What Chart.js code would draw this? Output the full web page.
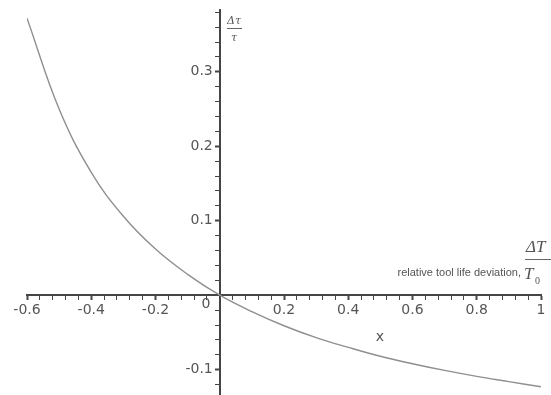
<!DOCTYPE html>
<html>
<head>
<meta charset="utf-8">
<script src="https://cdn.jsdelivr.net/npm/chart.js@4"></script>
<style>
  html, body { margin: 0; padding: 0; background: #fff; }
  #wrap { width: 551px; height: 395px; }
</style>
</head>
<body>
<div id="wrap"><canvas id="chart"></canvas></div>
<script>
// x = relative tool life deviation, y = delta tau / tau
const xValues = [-0.6, -0.5, -0.4, -0.3, -0.2, -0.1, 0, 0.1, 0.2, 0.3, 0.4, 0.5, 0.6, 0.7, 0.8, 0.9, 1.0];
const yValues = [0.372, 0.250, 0.165, 0.106, 0.062, 0.028, 0, -0.022, -0.041, -0.057, -0.070, -0.082, -0.092, -0.101, -0.109, -0.116, -0.123];

// labelled ticks on each axis
const xTickLabels = [-0.6, -0.4, -0.2, 0.2, 0.4, 0.6, 0.8, 1];
const yTickLabels = [0.3, 0.2, 0.1, -0.1];

const axisColor = '#454545';
const textColor = '#555';

function isMajor(v, list) {
  return list.some(t => Math.abs(t - v) < 1e-6);
}

function fmt(v) {
  if (Math.abs(v - 1) < 1e-6) return '1';
  return (Math.round(v * 10) / 10).toFixed(1);
}

// axis titles and the origin "0" drawn on top of the chart
const titlesPlugin = {
  id: 'titles',
  afterDraw(chart) {
    const c = chart.ctx;
    c.save();
    c.fillStyle = textColor;
    c.strokeStyle = '#666';
    c.textAlign = 'center';
    c.textBaseline = 'middle';

    // origin label
    c.font = '14px "DejaVu Sans"';
    c.fillText('0', 206, 304);

    // x below the axis
    c.font = '14px "DejaVu Sans"';
    c.fillText('x', 380, 337);

    // y axis title, small fraction
    c.font = 'italic 11px "DejaVu Serif"';
    c.fillText('\u0394\u03c4', 234, 21);
    c.lineWidth = 1;
    c.beginPath();
    c.moveTo(227, 28.5);
    c.lineTo(242, 28.5);
    c.stroke();
    c.fillText('\u03c4', 234, 38);

    // x axis title
    c.textAlign = 'right';
    c.font = '11px "Liberation Sans"';
    c.fillText('relative tool life deviation,', 521, 273);
    c.textAlign = 'left';
    c.font = 'italic 17px "Liberation Serif"';
    c.fillText('\u0394T', 526, 248);
    c.beginPath();
    c.moveTo(525, 259.5);
    c.lineTo(551, 259.5);
    c.stroke();
    c.fillText('T', 524, 275);
    c.font = '10px "Liberation Serif"';
    c.fillText('0', 535, 281);
    c.restore();
  }
};

const points = xValues.map((x, i) => ({ x: x, y: yValues[i] }));

new Chart(document.getElementById('chart'), {
  type: 'line',
  data: {
    datasets: [{
      data: points,
      borderColor: '#8f8f8f',
      borderWidth: 1.4,
      pointRadius: 0,
      tension: 0.4,
      fill: false
    }]
  },
  options: {
    responsive: true,
    maintainAspectRatio: false,
    animation: false,
    layout: { padding: { left: 27, right: 10, top: 10, bottom: 0 } },
    plugins: { legend: { display: false }, tooltip: { enabled: false } },
    scales: {
      x: {
        type: 'linear',
        position: { y: 0 },
        min: -0.6,
        max: 1,
        afterBuildTicks(axis) {
          const ticks = [];
          for (let i = 0; i <= 40; i++) ticks.push({ value: -0.6 + i * 0.04 });
          axis.ticks = ticks;
        },
        border: { color: axisColor, width: 2 },
        grid: {
          drawOnChartArea: false,
          drawTicks: true,
          tickLength: 4,
          tickColor: axisColor,
          tickWidth: ctx => isMajor(ctx.tick.value, xTickLabels) ? 2 : 1
        },
        ticks: {
          autoSkip: false,
          maxRotation: 0,
          padding: 3,
          color: textColor,
          font: { family: 'DejaVu Sans', size: 14 },
          callback: v => isMajor(v, xTickLabels) ? fmt(v) : ''
        }
      },
      y: {
        type: 'linear',
        position: { x: 0 },
        min: -0.134,
        max: 0.383,
        afterBuildTicks(axis) {
          const ticks = [];
          for (let i = 0; i <= 25; i++) ticks.push({ value: -0.12 + i * 0.02 });
          axis.ticks = ticks;
        },
        // the axis sits inside the plot, so its labels need no room at the edges
        afterFit(axis) {
          axis.paddingTop = 0;
          axis.paddingBottom = 0;
        },
        border: { color: axisColor, width: 2 },
        grid: {
          drawOnChartArea: false,
          drawTicks: true,
          tickLength: 4,
          tickColor: axisColor,
          tickWidth: ctx => isMajor(ctx.tick.value, yTickLabels) ? 2 : 1
        },
        ticks: {
          autoSkip: false,
          color: textColor,
          font: { family: 'DejaVu Sans', size: 14 },
          callback: v => isMajor(v, yTickLabels) ? fmt(v) + '\u2002' : ''
        }
      }
    }
  },
  plugins: [titlesPlugin]
});
</script>
</body>
</html>
